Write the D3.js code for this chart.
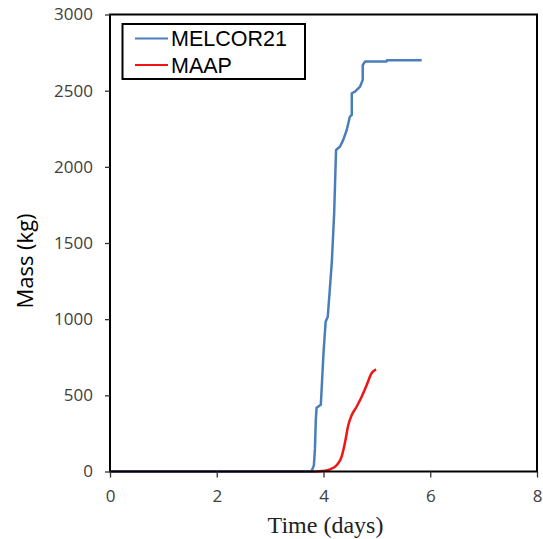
<!DOCTYPE html>
<html>
<head>
<meta charset="utf-8">
<script src="https://cdn.jsdelivr.net/npm/d3@7"></script>
<style>
  body { margin: 0; background: #fff; }
</style>
</head>
<body>
<div id="chart"></div>
<script>
// MELCOR21 curve, [days, kg]
var melcorT = [0, 3.74, 3.78, 3.82, 3.84, 3.855, 3.87, 3.95, 4.00, 4.04, 4.08, 4.155, 4.20, 4.235, 4.31, 4.37, 4.435, 4.495, 4.53, 4.53, 4.59, 4.685, 4.735, 4.735, 4.78, 5.18, 5.19, 5.84]
var melcorM = [0, 0, 5, 40, 150, 330, 418, 438, 778, 983, 1016, 1369, 1697, 2111, 2133, 2177, 2242, 2330, 2341, 2483, 2494, 2527, 2571, 2669, 2691, 2691, 2700, 2700]
// MAAP curve, [days, kg]
var maapT = [0, 3.85, 3.93, 4.03, 4.12, 4.25, 4.34, 4.40, 4.465, 4.53, 4.62, 4.715, 4.81, 4.90, 4.985]
var maapM = [0, 0, 2, 5, 14, 43, 97, 185, 305, 371, 425, 491, 568, 645, 671]

var xTicks = [0, 2, 4, 6, 8]
var yTicks = [0, 500, 1000, 1500, 2000, 2500, 3000]
var seriesNames = ['MELCOR21', 'MAAP']
var seriesColors = ['#4a7ebb', '#f01414']

var width = 543, height = 539
var margin = {left: 110, right: 6, top: 14.5, bottom: 67.5}

var svg = d3.select('#chart').append('svg')
    .attr('width', width)
    .attr('height', height)

var x = d3.scaleLinear().domain([0, 8]).range([margin.left, width - margin.right])
var y = d3.scaleLinear().domain([0, 3000]).range([height - margin.bottom, margin.top])

var line = d3.line()
    .x(function (d) { return x(d[0]) })
    .y(function (d) { return y(d[1]) })

var melcor = d3.zip(melcorT, melcorM)
var maap = d3.zip(maapT, maapM)

// curves (MAAP under MELCOR)
svg.append('path')
    .datum(maap)
    .attr('d', line.curve(d3.curveMonotoneX))
    .attr('fill', 'none')
    .attr('stroke', seriesColors[1])
    .attr('stroke-width', 2.5)

svg.append('path')
    .datum(melcor)
    .attr('d', line.curve(d3.curveLinear))
    .attr('fill', 'none')
    .attr('stroke', seriesColors[0])
    .attr('stroke-width', 2.5)
    .attr('stroke-linejoin', 'round')

// frame
svg.append('rect')
    .attr('x', x(0))
    .attr('y', y(3000))
    .attr('width', x(8) - x(0))
    .attr('height', y(0) - y(3000))
    .attr('fill', 'none')
    .attr('stroke', '#000')
    .attr('stroke-width', 2)

// axes
var xAxis = svg.append('g')
    .attr('transform', 'translate(0,' + y(0) + ')')
    .call(d3.axisBottom(x).tickValues(xTicks).tickSize(6).tickPadding(12).tickFormat(d3.format('d')))
var yAxis = svg.append('g')
    .attr('transform', 'translate(' + x(0) + ',0)')
    .call(d3.axisLeft(y).tickValues(yTicks).tickSize(5).tickPadding(12).tickFormat(d3.format('d')))

svg.selectAll('.domain').remove()
svg.selectAll('.tick line').attr('stroke', '#333').attr('stroke-width', 1.3)
svg.selectAll('.tick text')
    .attr('font-family', 'Open Sans')
    .attr('font-size', 17)
    .attr('fill', '#404040')

// axis titles
svg.append('text')
    .attr('x', (x(0) + x(8)) / 2 + 2)
    .attr('y', 533)
    .attr('text-anchor', 'middle')
    .attr('font-family', 'Liberation Serif')
    .attr('font-size', 24)
    .attr('fill', '#222')
    .text('Time (days)')

svg.append('text')
    .attr('transform', 'translate(33,261) rotate(-90)')
    .attr('text-anchor', 'middle')
    .attr('font-family', 'Open Sans')
    .attr('font-size', 22)
    .attr('fill', '#000')
    .text('Mass (kg)')

// legend
var lg = svg.append('g')
lg.append('rect')
    .attr('x', 122.5)
    .attr('y', 24)
    .attr('width', 182.5)
    .attr('height', 55)
    .attr('fill', '#fff')
    .attr('stroke', '#000')
    .attr('stroke-width', 2)

seriesNames.forEach(function (name, i) {
    var ly = 38.5 + i * 26.5
    lg.append('line')
        .attr('x1', 135).attr('x2', 168)
        .attr('y1', ly).attr('y2', ly)
        .attr('stroke', seriesColors[i])
        .attr('stroke-width', 2)
    lg.append('text')
        .attr('x', 171)
        .attr('y', ly)
        .attr('dy', '0.36em')
        .attr('font-family', 'Liberation Sans')
        .attr('font-size', 21.5)
        .attr('fill', '#000')
        .text(name)
})
</script>
</body>
</html>
